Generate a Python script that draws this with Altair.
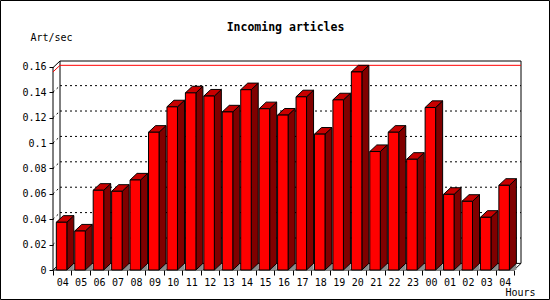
import altair as alt
import pandas as pd

# ---- data ----
hours = ["04", "05", "06", "07", "08", "09", "10", "11", "12", "13", "14", "15",
         "16", "17", "18", "19", "20", "21", "22", "23", "00", "01", "02", "03", "04"]
rates = [0.0376, 0.0307, 0.0628, 0.0620, 0.0709, 0.1085, 0.1285, 0.1395, 0.1370,
         0.1245, 0.1420, 0.1270, 0.1220, 0.1364, 0.1070, 0.1340, 0.1560, 0.0933,
         0.1085, 0.0872, 0.1280, 0.0596, 0.0541, 0.0415, 0.0667]
y_ticks = [0, 0.02, 0.04, 0.06, 0.08, 0.10, 0.12, 0.14, 0.16]

# ---- style / geometry constants ----
N = len(hours)
BAR_L = 0.18      # front-face left inset within a slot
BAR_W = 0.57      # front-face width (slot units)
DX = 0.38         # 3D depth, x (slot units)
DY = 0.0052       # 3D depth, y (value units)
X_MAX = N + DX
Y_MAX = 0.1646
FONT = "DejaVu Sans Mono"
FRONT, TOP, SIDE, FLOOR = "#FF0000", "#C80000", "#800000", "#8C8C8C"

xscale = alt.Scale(domain=[0, X_MAX], nice=False, zero=False)
yscale = alt.Scale(domain=[0, Y_MAX], nice=False)
label_arr = "[" + ",".join("'%s'" % h for h in hours) + "]"
xaxis = alt.Axis(values=list(range(N + 1)), tickSize=5, tickColor="black",
                 labelExpr="datum.value < %d ? %s[datum.value] : ''" % (N, label_arr),
                 labelOffset=9.2, labelPadding=2, labelFont=FONT, labelFontSize=10,
                 labelColor="black", labelFlush=False, labelOverlap=False,
                 domain=False, grid=False,
                 title="Hours", titleFont=FONT, titleFontSize=10, titleFontWeight="normal",
                 titleColor="black", titleX=452, titleY=25, titleAlign="left",
                 titleBaseline="alphabetic")
yaxis = alt.Axis(values=y_ticks, format=".2~f", tickSize=4, tickColor="black",
                 labelPadding=3, labelFont=FONT, labelFontSize=10, labelColor="black",
                 labelFlush=False, domain=False, grid=False,
                 title="Art/sec", titleFont=FONT, titleFontSize=10, titleFontWeight="normal",
                 titleColor="black", titleAngle=0, titleX=-23, titleY=-21,
                 titleAlign="left", titleBaseline="alphabetic")


def X(f):
    return alt.X(f, type="quantitative", scale=xscale, axis=xaxis)


def Y(f):
    return alt.Y(f, type="quantitative", scale=yscale, axis=yaxis, stack=None)


# ---- derived tables ----
front = pd.DataFrame({
    "bar": list(range(N)),
    "x0": [i + BAR_L for i in range(N)],
    "x1": [i + BAR_L + BAR_W for i in range(N)],
    "v": rates,
    "z": [0.0] * N,
})

side_rows, top_rows, floor_rows = [], [], []
for i, v in enumerate(rates):
    x0, x1 = i + BAR_L, i + BAR_L + BAR_W
    side_rows += [{"bar": i, "x": x1, "lo": 0.0, "hi": v},
                  {"bar": i, "x": x1 + DX, "lo": DY, "hi": v + DY}]
    top_rows += [{"bar": i, "y": v, "l": x0, "r": x1},
                 {"bar": i, "y": v + DY, "l": x0 + DX, "r": x1 + DX}]
    floor_rows += [{"bar": i, "x": x1, "lo": 0.0, "hi": 0.0},
                   {"bar": i, "x": x1 + DX, "lo": 0.0, "hi": DY}]
side = pd.DataFrame(side_rows)
topf = pd.DataFrame(top_rows)
floor = pd.DataFrame(floor_rows)

frame = pd.DataFrame([
    {"x": 0, "y": 0, "x2": 0, "y2": Y_MAX - DY},
    {"x": 0, "y": Y_MAX - DY, "x2": DX, "y2": Y_MAX},
    {"x": DX, "y": DY, "x2": DX, "y2": Y_MAX},
    {"x": DX, "y": Y_MAX, "x2": X_MAX, "y2": Y_MAX},
    {"x": X_MAX, "y": DY, "x2": X_MAX, "y2": Y_MAX},
    {"x": DX, "y": DY, "x2": X_MAX, "y2": DY},
    {"x": 0, "y": 0, "x2": N, "y2": 0},
    {"x": N, "y": 0, "x2": X_MAX, "y2": DY},
    {"x": 0, "y": 0, "x2": DX, "y2": DY},
])

grid_rows = []
for t in y_ticks[1:-1]:
    grid_rows.append({"x": DX, "y": t + DY, "x2": X_MAX, "y2": t + DY})
    grid_rows.append({"x": 0, "y": t, "x2": DX, "y2": t + DY})
grid = pd.DataFrame(grid_rows)

vmax = max(rates)
maxline = pd.DataFrame([
    {"x": DX, "y": vmax + DY, "x2": X_MAX, "y2": vmax + DY},
    {"x": 0, "y": vmax, "x2": DX, "y2": vmax + DY},
])

# ---- layers ----
grid_l = alt.Chart(grid).mark_rule(color="black", strokeDash=[2, 3], strokeWidth=1).encode(
    x=X("x"), y=Y("y"), x2="x2", y2="y2")
frame_l = alt.Chart(frame).mark_rule(color="black", strokeWidth=1).encode(
    x=X("x"), y=Y("y"), x2="x2", y2="y2")
max_l = alt.Chart(maxline).mark_rule(color="#FF0000", strokeWidth=1).encode(
    x=X("x"), y=Y("y"), x2="x2", y2="y2")
floor_l = alt.Chart(floor).mark_area(color=FLOOR, orient="vertical").encode(
    x=X("x"), y=Y("lo"), y2="hi", detail="bar:N")
side_l = alt.Chart(side).mark_area(fill=SIDE, stroke="black", strokeWidth=1,
                                   orient="vertical").encode(
    x=X("x"), y=Y("lo"), y2="hi", detail="bar:N")
top_l = alt.Chart(topf).mark_area(fill=TOP, stroke="black", strokeWidth=1,
                                  orient="horizontal").encode(
    y=Y("y"), x=X("l"), x2="r", detail="bar:N")
front_l = alt.Chart(front).mark_rect(fill=FRONT, stroke="black", strokeWidth=1).encode(
    x=X("x0"), x2="x1", y=Y("z"), y2="v")
border_l = alt.Chart(pd.DataFrame({"k": [0]})).mark_rect(
    filled=False, stroke="black", strokeWidth=1).encode(
    x=alt.value(-52.5), x2=alt.value(496.5), y=alt.value(-60.5), y2=alt.value(238.5))

chart = alt.layer(grid_l, frame_l, max_l, floor_l, side_l, top_l, front_l, border_l).properties(
    width=468, height=209,
    padding={"left": 53, "top": 61, "right": 29, "bottom": 30},
    autosize=alt.AutoSizeParams(type="none"),
    background="white",
    title=alt.TitleParams("Incoming articles", font=FONT, fontSize=11.5, fontWeight="bold",
                          color="black", anchor="middle", dx=-1.5, dy=42, offset=0,
                          baseline="alphabetic"),
).configure_view(stroke=None)

chart.save("out.html", embed_options={"renderer": "svg", "actions": False})
